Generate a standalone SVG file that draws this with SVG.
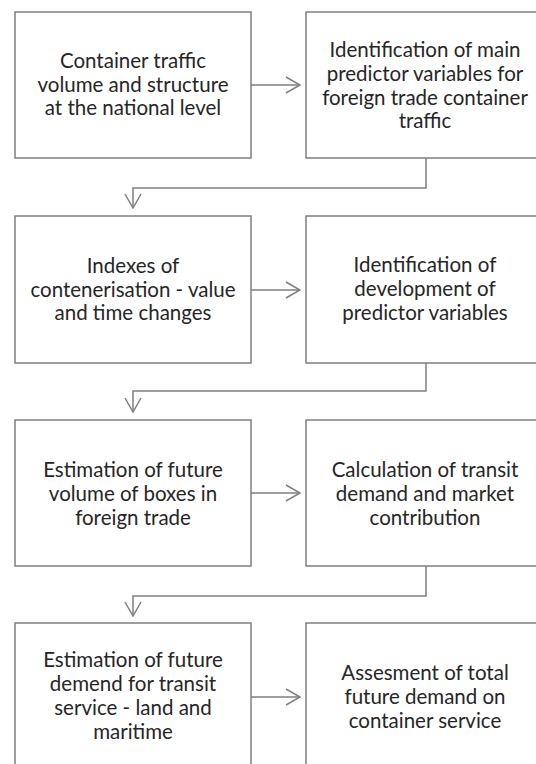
<svg xmlns="http://www.w3.org/2000/svg" width="536" height="764" viewBox="0 0 536 764">
<defs>
<style>
.box{fill:#fff;stroke:#7f7f7f;stroke-width:1.5}
.lbl{font-family:Lato,"Liberation Sans",sans-serif;font-size:20.5px;fill:#262626;text-anchor:middle}
.con{fill:none;stroke:#7f7f7f;stroke-width:1.5}
</style>
<marker id="ah" viewBox="0 0 16 18" refX="15" refY="9" markerWidth="16" markerHeight="18" markerUnits="userSpaceOnUse" orient="auto">
<path d="M1,1 L15,9 L1,17" fill="none" stroke="#7f7f7f" stroke-width="1.5"/>
</marker>
</defs>
<rect width="536" height="764" fill="#fff"/>
<g id="connectors">
<line class="con" x1="251" y1="85" x2="300" y2="85" marker-end="url(#ah)"/>
<polyline class="con" points="426,158 426,188 133,188 133,208" marker-end="url(#ah)"/>
<line class="con" x1="251" y1="290" x2="300" y2="290" marker-end="url(#ah)"/>
<polyline class="con" points="426,363 426,391 133,391 133,412" marker-end="url(#ah)"/>
<line class="con" x1="251" y1="493" x2="300" y2="493" marker-end="url(#ah)"/>
<polyline class="con" points="426,566 426,596 133,596 133,616" marker-end="url(#ah)"/>
<line class="con" x1="251" y1="697" x2="300" y2="697" marker-end="url(#ah)"/>
</g>
<g id="n1">
<rect class="box" x="15" y="12" width="236" height="146"/>
<text class="lbl" x="133" y="68">Container traffic</text>
<text class="lbl" x="133" y="92">volume and structure</text>
<text class="lbl" x="133" y="115">at the national level</text>
</g>
<g id="n2">
<rect class="box" x="306" y="12" width="240" height="146"/>
<text class="lbl" x="425" y="57">Identification of main</text>
<text class="lbl" x="425" y="81">predictor variables for</text>
<text class="lbl" x="425" y="105">foreign trade container</text>
<text class="lbl" x="425" y="128">traffic</text>
</g>
<g id="n3">
<rect class="box" x="15" y="216" width="236" height="147"/>
<text class="lbl" x="133" y="273">Indexes  of</text>
<text class="lbl" x="133" y="297">contenerisation - value</text>
<text class="lbl" x="133" y="320">and time changes</text>
</g>
<g id="n4">
<rect class="box" x="306" y="216" width="240" height="147"/>
<text class="lbl" x="425" y="272">Identification of</text>
<text class="lbl" x="425" y="296">development of</text>
<text class="lbl" x="425" y="320">predictor variables</text>
</g>
<g id="n5">
<rect class="box" x="15" y="420" width="236" height="146"/>
<text class="lbl" x="133" y="477">Estimation of future</text>
<text class="lbl" x="133" y="501">volume of boxes in</text>
<text class="lbl" x="133" y="525">foreign trade</text>
</g>
<g id="n6">
<rect class="box" x="306" y="420" width="240" height="146"/>
<text class="lbl" x="425" y="477">Calculation of transit</text>
<text class="lbl" x="425" y="501">demand and market</text>
<text class="lbl" x="425" y="525">contribution</text>
</g>
<g id="n7">
<rect class="box" x="15" y="623" width="236" height="150"/>
<text class="lbl" x="133" y="667">Estimation of future</text>
<text class="lbl" x="133" y="691">demend for transit</text>
<text class="lbl" x="133" y="715">service - land and</text>
<text class="lbl" x="133" y="739">maritime</text>
</g>
<g id="n8">
<rect class="box" x="306" y="623" width="240" height="150"/>
<text class="lbl" x="425" y="680">Assesment of total</text>
<text class="lbl" x="425" y="704">future demand on</text>
<text class="lbl" x="425" y="728">container service</text>
</g>
</svg>
